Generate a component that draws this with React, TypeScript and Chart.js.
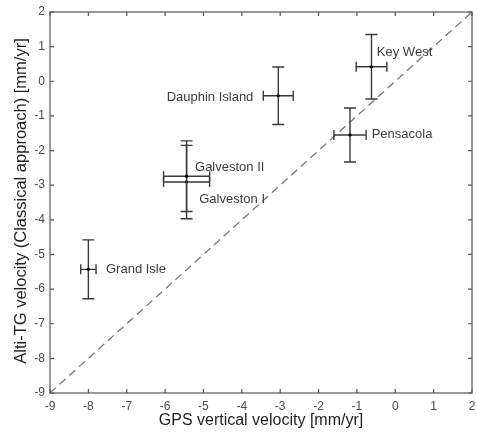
import React, { useEffect, useRef } from "react";
import { Chart, registerables } from "chart.js";

Chart.register(...registerables);

const stations = ["Grand Isle", "Galveston I", "Galveston II", "Dauphin Island", "Pensacola", "Key West"];
const gpsVel = [-8.0, -5.44, -5.44, -3.05, -1.18, -0.62];
const gpsErr = [0.2, 0.6, 0.6, 0.39, 0.42, 0.4];
const altiVel = [-5.43, -2.91, -2.74, -0.42, -1.55, 0.42];
const altiErr = [0.85, 1.06, 1.02, 0.83, 0.78, 0.93];
// label anchor (left edge / middle) in data units
const labelX = [-7.54, -5.11, -5.22, -5.96, -0.615, -0.48];
const labelY = [-5.43, -3.41, -2.49, -0.46, -1.53, 0.82];

const axisMin = -9;
const axisMax = 2;
const refLine = [
  { x: -9, y: -9 },
  { x: 2, y: 2 },
];
const xTitle = "GPS vertical velocity [mm/yr]";
const yTitle = "Alti-TG velocity (Classical approach) [mm/yr]";

const FONT = "'Liberation Sans', Arial, Helvetica, sans-serif";

const overlayPlugin = {
  id: "overlay",
  afterDatasetsDraw(chart: any) {
    const ctx = chart.ctx;
    const xs = chart.scales.x;
    const ys = chart.scales.y;
    const area = chart.chartArea;
    ctx.save();
    // error bars
    ctx.strokeStyle = "#3a3a3a";
    ctx.lineWidth = 1.4;
    for (let i = 0; i < stations.length; i++) {
      const cx = xs.getPixelForValue(gpsVel[i]);
      const cy = ys.getPixelForValue(altiVel[i]);
      const y1 = ys.getPixelForValue(altiVel[i] + altiErr[i]);
      const y2 = ys.getPixelForValue(altiVel[i] - altiErr[i]);
      const x1 = xs.getPixelForValue(gpsVel[i] - gpsErr[i]);
      const x2 = xs.getPixelForValue(gpsVel[i] + gpsErr[i]);
      ctx.beginPath();
      ctx.moveTo(cx, y1);
      ctx.lineTo(cx, y2);
      ctx.moveTo(cx - 6, y1);
      ctx.lineTo(cx + 6, y1);
      ctx.moveTo(cx - 6, y2);
      ctx.lineTo(cx + 6, y2);
      ctx.moveTo(x1, cy);
      ctx.lineTo(x2, cy);
      ctx.moveTo(x1, cy - 5);
      ctx.lineTo(x1, cy + 5);
      ctx.moveTo(x2, cy - 5);
      ctx.lineTo(x2, cy + 5);
      ctx.stroke();
      ctx.fillStyle = "#000";
      ctx.beginPath();
      ctx.arc(cx, cy, 1.6, 0, Math.PI * 2);
      ctx.fill();
    }
    // station labels
    ctx.fillStyle = "#3c3c3c";
    ctx.font = "13px " + FONT;
    ctx.textAlign = "left";
    ctx.textBaseline = "middle";
    for (let i = 0; i < stations.length; i++) {
      ctx.fillText(stations[i], xs.getPixelForValue(labelX[i]), ys.getPixelForValue(labelY[i]));
    }
    // box
    ctx.strokeStyle = "#555";
    ctx.lineWidth = 1.2;
    ctx.strokeRect(area.left, area.top, area.right - area.left, area.bottom - area.top);
    // inward ticks on all four sides
    ctx.beginPath();
    const tl = 4;
    xs.ticks.forEach((t: any) => {
      const px = xs.getPixelForValue(t.value);
      ctx.moveTo(px, area.bottom);
      ctx.lineTo(px, area.bottom - tl);
      ctx.moveTo(px, area.top);
      ctx.lineTo(px, area.top + tl);
    });
    ys.ticks.forEach((t: any) => {
      const py = ys.getPixelForValue(t.value);
      ctx.moveTo(area.left, py);
      ctx.lineTo(area.left + tl, py);
      ctx.moveTo(area.right, py);
      ctx.lineTo(area.right - tl, py);
    });
    ctx.stroke();
    // axis titles
    ctx.fillStyle = "#1e1e1e";
    ctx.textAlign = "center";
    ctx.textBaseline = "middle";
    ctx.font = "16px " + FONT;
    ctx.fillText(xTitle, (area.left + area.right) / 2, 421);
    ctx.font = "16.5px " + FONT;
    ctx.translate(21, 201);
    ctx.rotate(-Math.PI / 2);
    ctx.fillText(yTitle, 0, 0);
    ctx.restore();
  },
};

export default function App() {
  const ref = useRef<HTMLCanvasElement | null>(null);
  useEffect(() => {
    document.body.style.margin = "0";
    const canvas = ref.current!;
    const chart = new Chart(canvas, {
      type: "scatter",
      data: {
        datasets: [
          {
            type: "line",
            data: refLine,
            borderColor: "#777",
            borderWidth: 1.3,
            borderDash: [8, 5],
            pointRadius: 0,
            fill: false,
          } as any,
        ],
      },
      options: {
        animation: false,
        responsive: false,
        maintainAspectRatio: false,
        layout: { padding: { top: 12, right: 5, left: 0, bottom: 0 } },
        plugins: { legend: { display: false }, tooltip: { enabled: false } },
        scales: {
          x: {
            type: "linear",
            min: axisMin,
            max: axisMax,
            ticks: { stepSize: 1, color: "#4a4a4a", font: { family: FONT, size: 12 }, padding: 6 },
            grid: { display: true, drawOnChartArea: false, drawTicks: false },
            border: { display: false },
            afterFit: (s: any) => {
              s.height = 46;
              s.paddingLeft = 0;
              s.paddingRight = 0;
            },
          },
          y: {
            type: "linear",
            min: axisMin,
            max: axisMax,
            ticks: { stepSize: 1, color: "#4a4a4a", font: { family: FONT, size: 12 }, padding: 5 },
            grid: { display: true, drawOnChartArea: false, drawTicks: false },
            border: { display: false },
            afterFit: (s: any) => {
              s.width = 50;
              s.paddingTop = 0;
              s.paddingBottom = 0;
            },
          },
        },
      },
      plugins: [overlayPlugin],
    });
    return () => chart.destroy();
  }, []);
  return (
    <div style={{ width: 477, height: 439 }}>
      <canvas ref={ref} width={477} height={439} style={{ display: "block" }} />
    </div>
  );
}
